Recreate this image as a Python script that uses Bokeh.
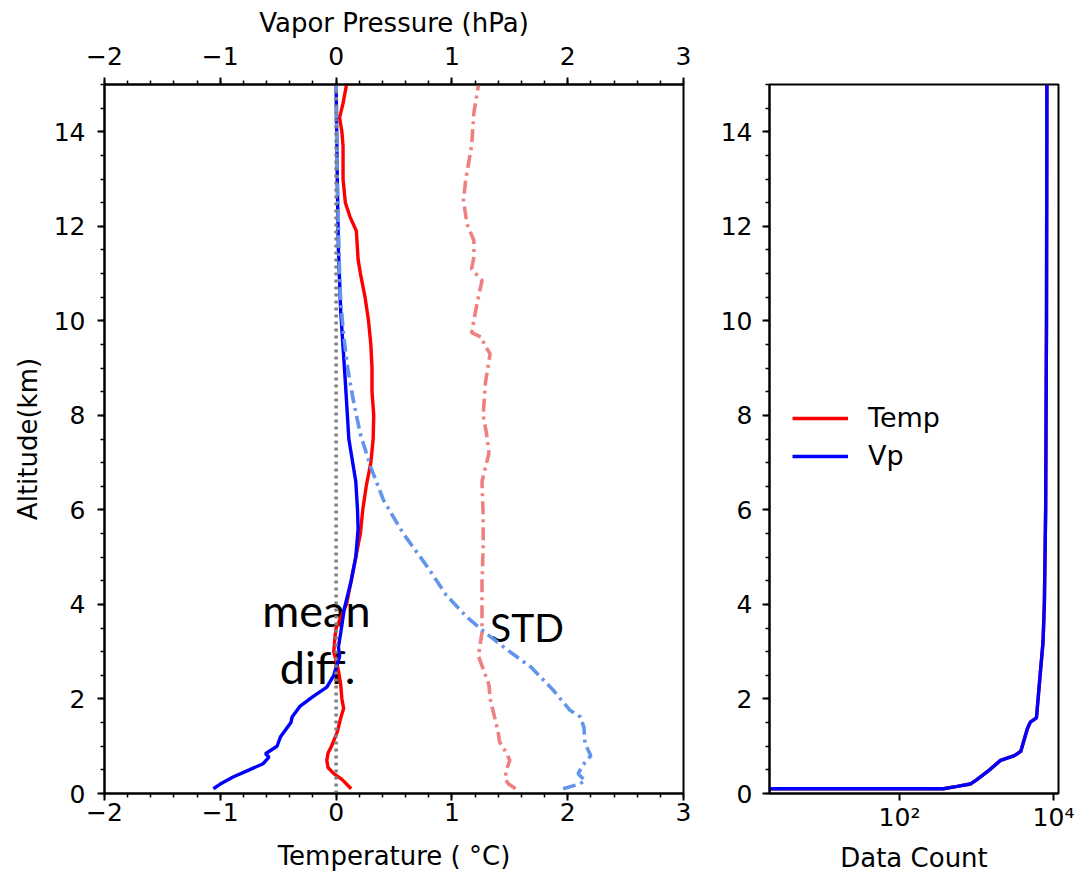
from bokeh.plotting import figure
from bokeh.models import (LinearAxis, Range1d, SingleIntervalTicker, FixedTicker,
                          CustomJSTickFormatter, ColumnDataSource)
from bokeh.layouts import row
from bokeh.embed import file_html
from bokeh.resources import INLINE
from bokeh.core.properties import value

# ---------------- data ----------------
temp_mean_alt = [0.1, 0.2, 0.3, 0.42, 0.55, 0.7, 0.85, 1.0, 1.3, 1.6, 1.8, 2.0, 2.3, 2.6,
                 3.0, 3.3, 3.5, 4.0, 4.5, 5.0, 5.5, 6.0, 6.5, 7.0, 7.5, 8.0, 8.5, 9.0,
                 9.5, 10.0, 10.5, 11.0, 11.3, 11.9, 12.2, 12.5, 13.0, 13.7, 14.0, 14.3,
                 14.6, 15.0]
temp_mean = [0.13, 0.09, 0.05, -0.02, -0.07, -0.08, -0.07, -0.04, 0.01, 0.04, 0.065, 0.05,
             0.04, 0.02, -0.02, -0.01, 0.0, 0.09, 0.13, 0.17, 0.21, 0.23, 0.26, 0.30, 0.32,
             0.325, 0.31, 0.31, 0.30, 0.28, 0.25, 0.21, 0.19, 0.175, 0.12, 0.08, 0.06,
             0.06, 0.05, 0.03, 0.06, 0.09]

vp_mean_alt = [0.1, 0.2, 0.35, 0.5, 0.63, 0.77, 0.84, 1.0, 1.2, 1.5, 1.62, 1.85, 2.05,
               2.25, 2.5, 2.9, 3.1, 3.4, 3.9, 4.5, 5.0, 5.6, 6.0, 6.6, 7.5, 8.7, 10.2,
               11.5, 13.0, 14.0, 15.0]
vp_mean = [-1.06, -1.0, -0.89, -0.75, -0.63, -0.58, -0.61, -0.51, -0.48, -0.39, -0.38,
           -0.31, -0.2, -0.08, -0.02, 0.03, 0.02, 0.04, 0.07, 0.13, 0.17, 0.19, 0.185,
           0.17, 0.11, 0.08, 0.04, 0.02, 0.01, 0.005, 0.0]

temp_std_alt = [0.1, 0.2, 0.3, 0.5, 0.7, 0.9, 1.1, 1.3, 1.5, 1.7, 2.0, 2.3, 2.5, 2.7, 2.9,
                3.1, 3.4, 3.8, 4.5, 5.2, 5.9, 6.6, 7.2, 7.6, 8.0, 8.7, 9.3, 9.5, 9.65,
                9.75, 10.15, 10.4, 10.85, 11.1, 11.35, 11.7, 12.05, 12.55, 13.0, 13.7,
                14.4, 15.0]
temp_std = [1.55, 1.49, 1.46, 1.47, 1.50, 1.46, 1.41, 1.40, 1.38, 1.36, 1.33, 1.32, 1.29,
            1.26, 1.23, 1.24, 1.26, 1.26, 1.26, 1.27, 1.27, 1.26, 1.32, 1.30, 1.27, 1.29,
            1.33, 1.28, 1.26, 1.17, 1.20, 1.22, 1.26, 1.17, 1.19, 1.19, 1.13, 1.10, 1.12,
            1.17, 1.19, 1.23]

vp_std_alt = [0.1, 0.2, 0.27, 0.42, 0.6, 0.8, 1.05, 1.4, 1.62, 1.76, 2.2, 2.68, 3.0, 3.38,
              3.73, 4.2, 4.79, 5.5, 6.2, 6.9, 7.6, 8.3, 9.0, 9.7, 10.4, 11.0, 12.0, 13.0,
              14.0, 15.0]
vp_std = [1.96, 2.10, 2.15, 2.09, 2.13, 2.20, 2.15, 2.14, 2.11, 2.02, 1.87, 1.68, 1.50,
          1.30, 1.13, 0.95, 0.79, 0.58, 0.41, 0.30, 0.21, 0.15, 0.10, 0.065, 0.04, 0.03,
          0.02, 0.01, 0.005, 0.0]

zero_line_x = [0, 0]
zero_line_alt = [0, 15]

count_alt = [0.1, 0.1, 0.15, 0.2, 0.29, 0.49, 0.7, 0.8, 0.89, 1.37, 1.51, 1.6, 2.39, 3.2,
             4.0, 6.0, 10.0, 15.0]
count_temp = [1, 370, 560, 830, 1000, 1450, 2050, 3100, 3750, 4570, 5000, 6000, 6600,
              7300, 7600, 7900, 8100, 8200]
count_vp = [1, 370, 560, 830, 1000, 1450, 2050, 3100, 3750, 4570, 5000, 6000, 6600,
            7300, 7600, 7900, 8100, 8200]

mean_label_text = ["mean", "diff."]
mean_label_x = [-0.17, -0.16]
mean_label_y = [3.88, 2.68]
std_label_text = ["STD"]
std_label_x = [1.33]
std_label_y = [3.52]

count_ticks = [100, 10000]
count_tick_labels = {100: "10\u00b2", 10000: "10\u2074"}

FONT = "DejaVu Sans"
MINUS_JS = "return tick < 0 ? '\\u2212' + Math.abs(tick) : String(tick);"


def style_axis(ax, tick_standoff=6, label_standoff=12):
    ax.axis_line_width = 2
    ax.axis_line_color = "black"
    ax.major_tick_line_width = 2
    ax.major_tick_line_color = "black"
    ax.minor_tick_line_width = 1.5
    ax.minor_tick_line_color = "black"
    ax.major_tick_in = 0
    ax.major_tick_out = 7
    ax.minor_tick_in = 0
    ax.minor_tick_out = 4
    ax.major_label_text_font = FONT
    ax.major_label_text_font_size = "25px"
    ax.major_label_text_color = "black"
    ax.major_label_standoff = tick_standoff
    ax.axis_label_text_font = FONT
    ax.axis_label_text_font_size = "26px"
    ax.axis_label_text_font_style = "normal"
    ax.axis_label_text_color = "black"
    ax.axis_label_standoff = label_standoff


# ---------------- left panel ----------------
p1 = figure(width=710, height=875, x_range=Range1d(-2, 3), y_range=Range1d(0, 15),
            output_backend="svg", toolbar_location=None,
            min_border_left=104, min_border_right=27, min_border_top=84, min_border_bottom=82)
p1.extra_x_ranges = {"vp": Range1d(-2, 3)}
p1.xgrid.visible = False
p1.ygrid.visible = False
p1.outline_line_color = "black"
p1.outline_line_width = 2
p1.outline_line_alpha = 1.0

p1.xaxis.ticker = SingleIntervalTicker(interval=1, num_minor_ticks=5)
p1.xaxis.formatter = CustomJSTickFormatter(code=MINUS_JS)
p1.xaxis.axis_label = "Temperature ( \u00b0C)"
p1.yaxis.ticker = SingleIntervalTicker(interval=2, num_minor_ticks=4)
p1.yaxis.axis_label = "Altitude(km)"
for ax in p1.xaxis:
    style_axis(ax, tick_standoff=2, label_standoff=17)
for ax in p1.yaxis:
    style_axis(ax, tick_standoff=12, label_standoff=8)

top_ax = LinearAxis(x_range_name="vp", axis_label="Vapor Pressure (hPa)",
                    ticker=SingleIntervalTicker(interval=1, num_minor_ticks=5),
                    formatter=CustomJSTickFormatter(code=MINUS_JS))
style_axis(top_ax, tick_standoff=13, label_standoff=6)
p1.add_layout(top_ax, "above")

# annotation texts (drawn first, lines go on top)
src_mean_lbl = ColumnDataSource(dict(x=mean_label_x, y=mean_label_y, t=mean_label_text))
p1.text(x="x", y="y", text="t", source=src_mean_lbl, text_font=value("Lato"),
        text_font_size="45px", text_align="center", text_baseline="alphabetic",
        text_color="black")
src_std_lbl = ColumnDataSource(dict(x=std_label_x, y=std_label_y, t=std_label_text))
p1.text(x="x", y="y", text="t", source=src_std_lbl, text_font=value("Lato"),
        text_font_size="39px", text_align="left", text_baseline="alphabetic",
        text_color="black")

p1.line(temp_mean, temp_mean_alt, line_color="red", line_width=3.4)
p1.line(vp_mean, vp_mean_alt, line_color="blue", line_width=3.4)
p1.line(temp_std, temp_std_alt, line_color="#F08080", line_width=3.6,
        line_dash="13 5 3 5")
p1.line(vp_std, vp_std_alt, line_color="#6495ED", line_width=3.6,
        line_dash="13 5 3 5")
p1.line(zero_line_x, zero_line_alt, line_color="gray", line_width=3.5, line_dash="3 4")

# ---------------- right panel ----------------
p2 = figure(width=368, height=875, x_axis_type="log", x_range=Range1d(2.05, 11600),
            y_range=Range1d(0, 15), output_backend="svg", toolbar_location=None,
            min_border_left=59, min_border_right=20, min_border_top=84, min_border_bottom=82)
p2.xgrid.visible = False
p2.ygrid.visible = False
p2.outline_line_color = "black"
p2.outline_line_width = 2
p2.outline_line_alpha = 1.0

p2.xaxis.ticker = FixedTicker(ticks=count_ticks, minor_ticks=[])
p2.xaxis.major_label_overrides = count_tick_labels
p2.xaxis.axis_label = "Data Count"
p2.yaxis.ticker = SingleIntervalTicker(interval=2, num_minor_ticks=4)
for ax in p2.xaxis:
    style_axis(ax, tick_standoff=2, label_standoff=8)
for ax in p2.yaxis:
    style_axis(ax, tick_standoff=10, label_standoff=10)

p2.line(count_temp, count_alt, line_color="red", line_width=3.4, legend_label="Temp")
p2.line(count_vp, count_alt, line_color="blue", line_width=3.4, legend_label="Vp")

lg = p2.legend[0]
lg.location = (23, 322)
lg.border_line_alpha = 0
lg.background_fill_alpha = 0
lg.padding = 0
lg.margin = 0
lg.spacing = 7
lg.glyph_width = 56
lg.glyph_height = 26
lg.label_height = 26
lg.label_standoff = 20
lg.label_text_font = FONT
lg.label_text_font_size = "27px"
lg.label_text_color = "black"

layout = row(p1, p2)
open("out.html", "w").write(file_html(layout, INLINE))
